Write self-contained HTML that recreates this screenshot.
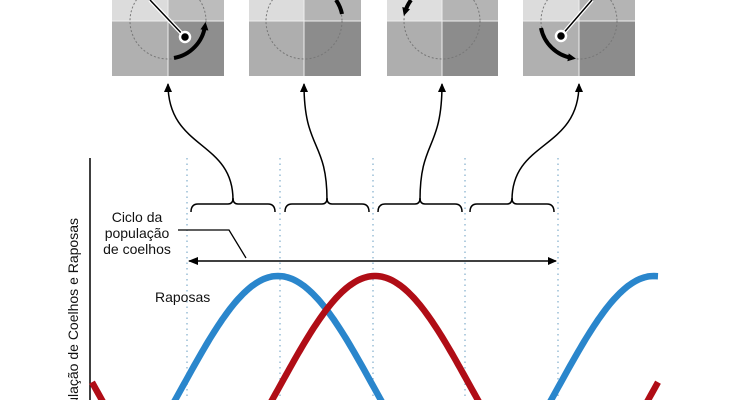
<!DOCTYPE html>
<html><head><meta charset="utf-8"><style>
html,body{margin:0;padding:0;background:#fff;width:750px;height:400px;overflow:hidden;}
svg{display:block;font-family:"Liberation Sans","DejaVu Sans",sans-serif;}
</style></head><body>
<svg width="750" height="400" viewBox="0 0 750 400" xmlns="http://www.w3.org/2000/svg">
<defs>
<marker id="ah" markerWidth="10" markerHeight="10" refX="8" refY="5" orient="auto" markerUnits="userSpaceOnUse">
<path d="M0,1 L9,5 L0,9 Z" fill="#000"/></marker>
<marker id="bh" markerWidth="10" markerHeight="10" refX="5" refY="5" orient="auto" markerUnits="userSpaceOnUse">
<path d="M1,1 L9,5 L1,9 Z" fill="#000"/></marker>
</defs>

<g>
<rect x="112" y="0" width="56" height="21" fill="#dcdcdc"/>
<rect x="168" y="0" width="56" height="21" fill="#bcbcbc"/>
<rect x="112" y="21" width="56" height="55" fill="#b0b0b0"/>
<rect x="168" y="21" width="56" height="55" fill="#8e8e8e"/>
<line x1="168" y1="0" x2="168" y2="76" stroke="#eee" stroke-width="1"/>
<line x1="112" y1="21" x2="224" y2="21" stroke="#eee" stroke-width="1"/>
<circle cx="168" cy="21" r="38" fill="none" stroke="#777" stroke-width="1" stroke-dasharray="2,2"/>
<path d="M174,58 A38,38 0 0 0 205,26" fill="none" stroke="#000" stroke-width="4" marker-end="url(#bh)"/>
<line x1="150" y1="0" x2="185" y2="37" stroke="#fff" stroke-width="4"/>
<line x1="150" y1="0" x2="185" y2="37" stroke="#000" stroke-width="1.5"/>
<circle cx="185" cy="37" r="5" fill="#000" stroke="#fff" stroke-width="2.5"/>
</g>
<g>
<rect x="249" y="0" width="55" height="21" fill="#dcdcdc"/>
<rect x="304" y="0" width="57" height="21" fill="#b4b4b4"/>
<rect x="249" y="21" width="55" height="55" fill="#aeaeae"/>
<rect x="304" y="21" width="57" height="55" fill="#8c8c8c"/>
<line x1="304" y1="0" x2="304" y2="76" stroke="#eee"/>
<line x1="249" y1="21" x2="361" y2="21" stroke="#eee"/>
<circle cx="304" cy="21" r="38" fill="none" stroke="#777" stroke-width="1" stroke-dasharray="2,2"/>
<path d="M336,0 A38,38 0 0 1 342,14" fill="none" stroke="#000" stroke-width="4"/>
</g>
<g>
<rect x="387" y="0" width="55" height="21" fill="#dedede"/>
<rect x="442" y="0" width="56" height="21" fill="#b4b4b4"/>
<rect x="387" y="21" width="55" height="55" fill="#aeaeae"/>
<rect x="442" y="21" width="56" height="55" fill="#8c8c8c"/>
<line x1="442" y1="0" x2="442" y2="76" stroke="#eee"/>
<line x1="387" y1="21" x2="498" y2="21" stroke="#eee"/>
<circle cx="442" cy="21" r="38" fill="none" stroke="#777" stroke-width="1" stroke-dasharray="2,2"/>
<path d="M411,0 A38,38 0 0 0 405,12" fill="none" stroke="#000" stroke-width="4" marker-end="url(#bh)"/>
</g>
<g>
<rect x="523" y="0" width="56" height="21" fill="#dcdcdc"/>
<rect x="579" y="0" width="56" height="21" fill="#b4b4b4"/>
<rect x="523" y="21" width="56" height="55" fill="#b0b0b0"/>
<rect x="579" y="21" width="56" height="55" fill="#8c8c8c"/>
<line x1="579" y1="0" x2="579" y2="76" stroke="#eee"/>
<line x1="523" y1="21" x2="635" y2="21" stroke="#eee"/>
<circle cx="579" cy="21" r="38" fill="none" stroke="#777" stroke-width="1" stroke-dasharray="2,2"/>
<path d="M541,28 A38,38 0 0 0 572,58" fill="none" stroke="#000" stroke-width="4" marker-end="url(#bh)"/>
<line x1="592" y1="0" x2="561" y2="36" stroke="#fff" stroke-width="4"/>
<line x1="592" y1="0" x2="561" y2="36" stroke="#000" stroke-width="1.5"/>
<circle cx="561" cy="36" r="5" fill="#000" stroke="#fff" stroke-width="2.5"/>
</g>

<g fill="none" stroke="#000" stroke-width="1.5">
<path d="M233,200 C233,140 168,150 168,84" marker-end="url(#ah)"/>
<path d="M327,200 C327,140 304,150 304,84" marker-end="url(#ah)"/>
<path d="M420,200 C420,140 442,150 442,84" marker-end="url(#ah)"/>
<path d="M512,200 C512,140 579,150 579,84" marker-end="url(#ah)"/>
</g>

<g stroke="#8ab4d0" stroke-width="1.3" stroke-dasharray="1.5,4">
<line x1="187" y1="158" x2="187" y2="400"/>
<line x1="280" y1="158" x2="280" y2="400"/>
<line x1="373" y1="158" x2="373" y2="400"/>
<line x1="465" y1="158" x2="465" y2="400"/>
<line x1="558" y1="158" x2="558" y2="400"/>
</g>

<g fill="none" stroke="#000" stroke-width="1.5">
<path d="M191,212 Q191,204 198,204 L228,204 Q233,204 233,198 Q233,204 238,204 L268,204 Q275,204 275,212"/>
<path d="M285,212 Q285,204 292,204 L322,204 Q327,204 327,198 Q327,204 332,204 L362,204 Q369,204 369,212"/>
<path d="M378,212 Q378,204 385,204 L415,204 Q420,204 420,198 Q420,204 425,204 L455,204 Q462,204 462,212"/>
<path d="M470,212 Q470,204 477,204 L507,204 Q512,204 512,198 Q512,204 517,204 L547,204 Q554,204 554,212"/>
</g>

<line x1="189" y1="261" x2="556" y2="261" stroke="#000" stroke-width="1.5" marker-end="url(#ah)"/>
<path d="M198,257 L188,261 L198,265 Z" fill="#000"/>
<polyline points="178,230 229,230 246,258" fill="none" stroke="#000" stroke-width="1.3"/>
<g font-size="14" fill="#111" text-anchor="middle">
<text x="137" y="222">Ciclo da</text>
<text x="137" y="238">população</text>
<text x="137" y="254">de coelhos</text>
</g>
<text x="155" y="302" font-size="14" fill="#111">Raposas</text>

<line x1="90" y1="158" x2="90" y2="400" stroke="#000" stroke-width="1.5"/>
<text transform="translate(78,218) rotate(-90)" text-anchor="end" font-size="14" fill="#111">População de Coelhos e Raposas</text>

<path id="blue" fill="none" stroke="#2a86cc" stroke-width="6.5" d=""/>
<path id="red" fill="none" stroke="#b00d16" stroke-width="6.5" d=""/>
<script>
function mk(peak,x0,x1){var P=376,A=108,s='';for(var x=x0;x<=x1;x+=2){var y=276+A*(1-Math.cos(2*Math.PI*(x-peak)/P));s+=(x==x0?'M':'L')+x+','+y.toFixed(1);}return s;}
document.getElementById('blue').setAttribute('d',mk(278,92,658));
document.getElementById('red').setAttribute('d',mk(375,92,658));
</script>
</svg>
</body></html>
